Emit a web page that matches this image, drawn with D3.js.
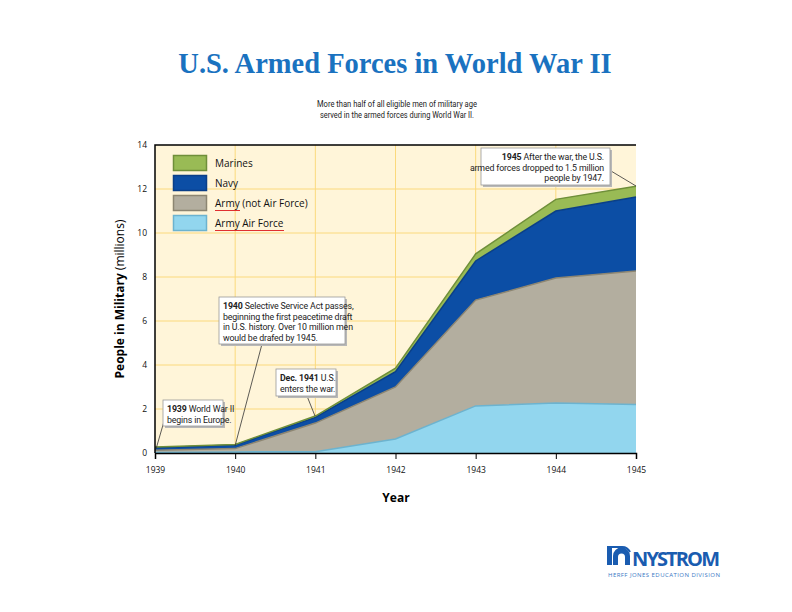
<!DOCTYPE html>
<html><head><meta charset="utf-8">
<script src="https://cdn.jsdelivr.net/npm/d3@7"></script>
<style>body{margin:0;background:#fff}svg{display:block}</style>
</head><body>
<svg id="c" width="792" height="612"></svg>
<script>
const years = [1939, 1940, 1941, 1942, 1943, 1944, 1945];
const airForce = [0.02, 0.05, 0.06, 0.64, 2.14, 2.27, 2.20];
const army = [0.10, 0.15, 1.30, 2.36, 4.81, 5.68, 6.07];
const navy = [0.12, 0.16, 0.26, 0.70, 1.78, 3.05, 3.37];
const marines = [0.03, 0.03, 0.06, 0.16, 0.32, 0.53, 0.48];
const yTicks = [0, 2, 4, 6, 8, 10, 12, 14];
const seriesNames = ["Army Air Force", "Army (not Air Force)", "Navy", "Marines"];

const svg = d3.select("#c");
const m = {l: 155, r: 636, t: 145, b: 453};
const x = d3.scaleLinear().domain([1939, 1945]).range([m.l, m.r]);
const y = d3.scaleLinear().domain([0, 14]).range([m.b, m.t]);

const sans = "'Open Sans', 'DejaVu Sans', sans-serif";
const narrow = "'Roboto', 'Liberation Sans', sans-serif";

// title
svg.append("text").attr("x", 395).attr("y", 73).attr("text-anchor", "middle")
  .attr("font-family", "'Liberation Serif', 'DejaVu Serif', serif").attr("font-weight", "bold")
  .attr("font-size", 28.5).attr("fill", "#1a72c0").text("U.S. Armed Forces in World War II");
svg.append("text").attr("x", 317).attr("y", 107)
  .attr("font-family", narrow).attr("font-size", 9).attr("fill", "#222")
  .attr("textLength", 160).attr("lengthAdjust", "spacingAndGlyphs")
  .text("More than half of all eligible men of military age");
svg.append("text").attr("x", 320).attr("y", 118)
  .attr("font-family", narrow).attr("font-size", 9).attr("fill", "#222")
  .attr("textLength", 154).attr("lengthAdjust", "spacingAndGlyphs")
  .text("served in the armed forces during World War II.");

// background
svg.append("rect").attr("x", m.l).attr("y", m.t).attr("width", m.r - m.l).attr("height", m.b - m.t)
  .attr("fill", "#fff5d9");
// grid
const g = svg.append("g");
g.selectAll(".hy").data(yTicks.slice(1, -1)).join("line")
  .attr("x1", m.l).attr("x2", m.r).attr("y1", d => y(d)).attr("y2", d => y(d))
  .attr("stroke", "#fbd97c").attr("stroke-width", 1);
g.selectAll(".vx").data(years.slice(1, -1)).join("line")
  .attr("x1", d => x(d)).attr("x2", d => x(d)).attr("y1", m.t).attr("y2", m.b)
  .attr("stroke", "#fbd97c").attr("stroke-width", 1);

// stack
const table = years.map((yr, i) => ({year: yr, air: airForce[i], army: army[i], navy: navy[i], marines: marines[i]}));
const keys = ["air", "army", "navy", "marines"];
const fills = {air: "#92d6ee", army: "#b3ae9f", navy: "#0c4ea5", marines: "#99bb55"};
const strokes = {air: "#6cb3cf", army: "#8d8672", navy: "#0a3f88", marines: "#6f8f3a"};
const stack = d3.stack().keys(keys)(table);
const area = d3.area().x(d => x(d.data.year)).y0(d => y(d[0])).y1(d => y(d[1]));
const topLine = d3.line().x(d => x(d.data.year)).y(d => y(d[1]));
svg.append("g").selectAll("path").data(stack).join("path")
  .attr("d", area).attr("fill", d => fills[d.key]);
svg.append("g").selectAll("path").data(stack).join("path")
  .attr("d", topLine).attr("fill", "none").attr("stroke", d => strokes[d.key]).attr("stroke-width", 1.5);

// frame
svg.append("path").attr("d", `M${m.l},${m.b}V${m.t}H${m.r}`).attr("fill", "none")
  .attr("stroke", "#000").attr("stroke-width", 1.5);

// axes
const xAxis = svg.append("g").attr("transform", `translate(0,${m.b})`)
  .call(d3.axisBottom(x).tickValues(years).tickFormat(d3.format("d")).tickSize(6));
xAxis.select(".domain").attr("stroke-width", 1.5);
xAxis.selectAll("text").attr("font-family", sans).attr("font-size", 8.5).attr("dy", "1.3em").attr("fill", "#111");
const yAxis = svg.append("g").attr("transform", `translate(${m.l},0)`)
  .call(d3.axisLeft(y).tickValues(yTicks).tickSize(0).tickPadding(8));
yAxis.select(".domain").remove();
yAxis.selectAll("text").attr("font-family", sans).attr("font-size", 8.5).attr("fill", "#111");

svg.append("text").attr("x", 396).attr("y", 502).attr("text-anchor", "middle")
  .attr("font-family", sans).attr("font-weight", "bold").attr("font-size", 12).text("Year");
const yl = svg.append("text").attr("transform", "translate(124,299) rotate(-90)").attr("text-anchor", "middle")
  .attr("font-family", sans).attr("font-size", 12);
yl.append("tspan").attr("font-weight", "bold").text("People in Military ");
yl.append("tspan").text("(millions)");

// legend
const legendOrder = ["marines", "navy", "army", "air"];
const legendLabels = {marines: "Marines", navy: "Navy", army: "Army (not Air Force)", air: "Army Air Force"};
const lg = svg.append("g");
legendOrder.forEach((k, i) => {
  const yy = 155 + i * 20;
  lg.append("rect").attr("x", 173.5).attr("y", yy + 0.5).attr("width", 33).attr("height", 15)
    .attr("fill", fills[k]).attr("stroke", strokes[k]).attr("stroke-width", 1.5);
  lg.append("text").attr("x", 215).attr("y", yy + 11.5).attr("font-family", sans).attr("font-size", 10)
    .attr("fill", "#111").text(legendLabels[k]);
});
lg.append("line").attr("x1", 215).attr("x2", 240).attr("y1", 210.5).attr("y2", 210.5).attr("stroke", "#e03030").attr("stroke-width", 1);
lg.append("line").attr("x1", 215).attr("x2", 284).attr("y1", 230.5).attr("y2", 230.5).attr("stroke", "#e03030").attr("stroke-width", 1);

// annotations
function note(bx, by, bw, bh, lines, anchor, lx1, ly1, lx2, ly2) {
  svg.append("line").attr("x1", lx1).attr("y1", ly1).attr("x2", lx2).attr("y2", ly2)
    .attr("stroke", "#333").attr("stroke-width", 0.8);
  svg.append("rect").attr("x", bx + 2).attr("y", by + 2).attr("width", bw).attr("height", bh).attr("fill", "#b8b8b8");
  svg.append("rect").attr("x", bx).attr("y", by).attr("width", bw).attr("height", bh)
    .attr("fill", "#fff").attr("stroke", "#999").attr("stroke-width", 0.8);
  const tx = anchor === "end" ? bx + bw - 6 : bx + 4;
  lines.forEach((ln, i) => {
    const t = svg.append("text").attr("x", tx).attr("y", by + 12 + i * 10.5).attr("text-anchor", anchor)
      .attr("font-family", narrow).attr("font-size", 8.8).attr("fill", "#222")
      .attr("letter-spacing", -0.15);
    if (ln[0]) t.append("tspan").attr("font-weight", "bold").text(ln[0] + " ");
    t.append("tspan").text(ln[1]);
  });
}
note(163, 400, 60, 26, [["1939", "World War II"], ["", "begins in Europe."]], "start", 156, 449, 165, 418);
note(219, 297, 126, 47, [["1940", "Selective Service Act passes,"], ["", "beginning the first peacetime draft"], ["", "in U.S. history.  Over 10 million men"], ["", "would be drafed by 1945."]], "start", 235, 446, 262, 344);
note(276, 369, 60, 27, [["Dec. 1941", "U.S."], ["", "enters the war."]], "start", 315, 416, 307, 396);
note(481, 148, 129, 37, [["1945", "After the war, the U.S."], ["", "armed forces dropped to 1.5 million"], ["", "people by 1947."]], "end", 606, 168, 636, 186);

// logo
const lgo = svg.append("g");
lgo.append("rect").attr("x", 607).attr("y", 547).attr("width", 5).attr("height", 18).attr("fill", "#1a5cb0");
lgo.append("path").attr("d", "M613,565 V556 A8.5,8.5 0 0 1 630,556 V565 H625 V557 A3.5,3.5 0 0 0 618,557 V565 Z").attr("fill", "#1a5cb0");
lgo.append("path").attr("d", "M607,547 H621 A9,9 0 0 1 630,552").attr("fill", "none").attr("stroke", "#1a5cb0").attr("stroke-width", 2);
lgo.append("text").attr("x", 632).attr("y", 566).attr("font-family", sans).attr("font-weight", "bold")
  .attr("font-size", 20).attr("fill", "#1a5cb0").attr("textLength", 88).text("NYSTROM");
lgo.append("text").attr("x", 608).attr("y", 577).attr("font-family", sans)
  .attr("font-size", 6).attr("fill", "#3a78c4").attr("textLength", 112).text("HERFF JONES EDUCATION DIVISION");
</script>
</body></html>
